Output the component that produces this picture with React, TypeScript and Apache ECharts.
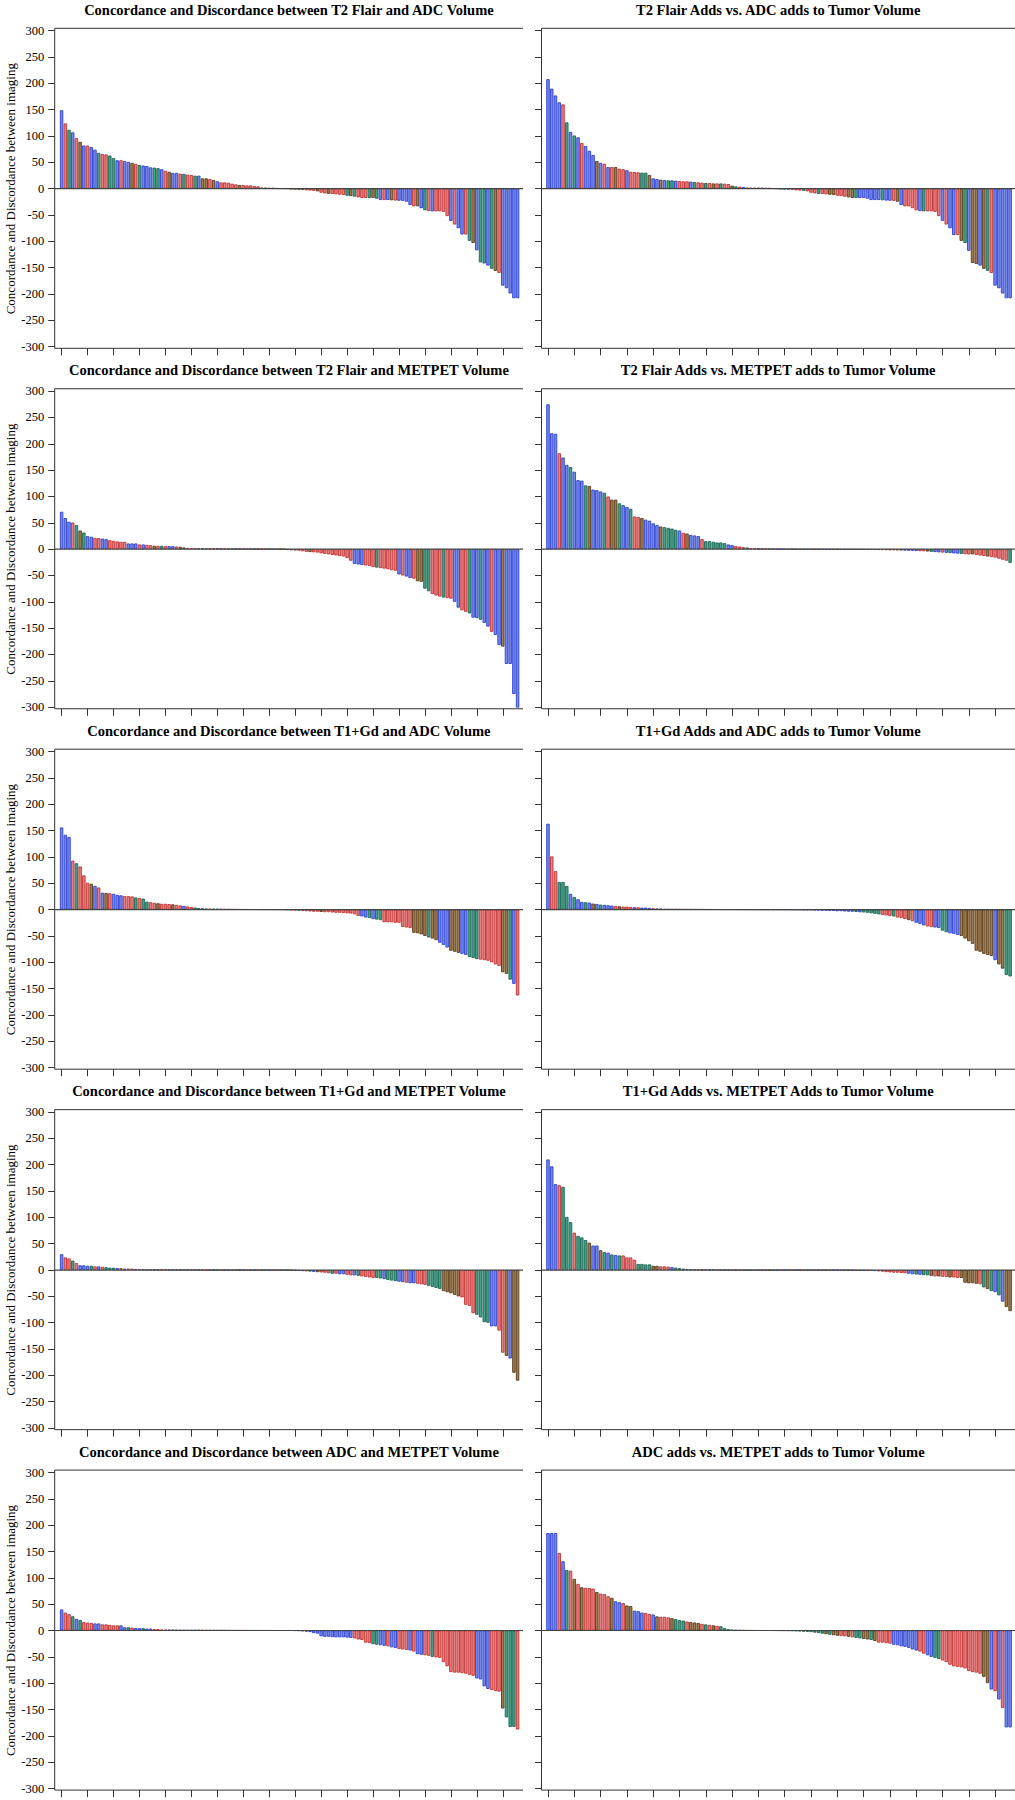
import React, { useEffect, useRef } from 'react';
import * as echarts from 'echarts';

// ---------- data ----------
const N_BARS = 124;
const CATEGORIES: string[] = Array.from({ length: N_BARS }, (_, i) => String(i + 1));
const Y_MIN = -300;
const Y_MAX = 300;
const Y_STEP = 50;
const Y_NAME = 'Concordance and Discordance between imaging';

const TITLES = [
  'Concordance and Discordance between T2 Flair and ADC Volume',
  'T2 Flair Adds vs. ADC adds to Tumor Volume',
  'Concordance and Discordance between T2 Flair and METPET Volume',
  'T2 Flair Adds vs. METPET adds to Tumor Volume',
  'Concordance and Discordance between T1+Gd and ADC Volume',
  'T1+Gd Adds and ADC adds to Tumor Volume',
  'Concordance and Discordance between T1+Gd and METPET Volume',
  'T1+Gd Adds vs. METPET Adds to Tumor Volume',
  'Concordance and Discordance between ADC and METPET Volume',
  'ADC adds vs. METPET adds to Tumor Volume',
];

// colour codes: B blue, R red, G green, N brown
const P1_VALUES = [
  149, 124, 112, 107, 96, 89, 82, 82, 79, 74,
  68, 66, 65, 63, 58, 54, 54, 52.5, 51, 49,
  47, 45, 44, 43, 40.5, 40, 39, 37, 34, 32,
  30, 30, 28.5, 28, 26.6, 26, 24.7, 24.7, 19.6, 19.6,
  18.4, 16.5, 14, 12, 12, 11.4, 9.5, 8.2, 7, 7,
  6.3, 6.3, 5, 4.4, 2, 2, 1.5, 1.5, 1, 0.5,
  0.5, 0.3, -0.5, -1, -1.5, -2, -3, -3.5, -4, -5,
  -7.6, -8.9, -10, -10, -10.7, -11.4, -12, -13.3, -14, -15.2,
  -16.5, -17.7, -17.7, -17.7, -17.7, -19, -21.5, -21.5, -21.5, -22,
  -22.5, -22.8, -23, -24.7, -31, -33.5, -33.5, -37, -41, -42.4,
  -43, -43, -43, -44, -52, -61, -68, -75, -87, -87,
  -99, -103, -117, -140, -142, -146, -152, -156, -160, -184,
  -189, -199, -208, -208,
];
const P1_COLORS = ['BRGBRNBRBB', 'GRRGGBRBBN', 'RGBBBGGBRN', 'BBRGRRGBNN', 'RNBRRRRRNR', 'RRRRNNNNGG',
  'NGNNNNRRRN', 'RRNRRRRGNG', 'RRRGNGBRBN', 'RBBBBRNBGR', 'BRRRRBRBBR', 'GNBGGBGNRB', 'BBBB'].join('');

const P2_VALUES = [
  208, 190, 177, 164, 160, 126, 108, 101, 97.5, 87,
  81, 72, 64, 52.5, 49, 47.5, 41, 41, 41, 38,
  37, 35, 32, 31.6, 31, 30.4, 30.4, 26, 19.6, 18.4,
  17, 16.5, 15.8, 15.8, 15.2, 14.6, 14, 14, 13.3, 12.7,
  12, 11.4, 10.8, 10.8, 10, 10, 10, 9.5, 8.9, 5.7,
  4.4, 3.8, 3.2, 2, 2, 2, 2, 2, 1.3, 1.3,
  0.6, 0.3, -0.5, -1, -1.5, -2, -3, -3.5, -4, -5,
  -7.6, -8.9, -10, -10, -10.7, -11.4, -12, -13.3, -14, -15.2,
  -16.5, -17.7, -17.7, -17.7, -17.7, -19, -21.5, -21.5, -21.5, -22,
  -22.5, -22.8, -23, -24.7, -31, -33.5, -33.5, -37, -41, -42.4,
  -43, -43, -43, -44, -52, -61, -68, -75, -88, -88,
  -99, -103, -118, -141, -143, -146, -152, -156, -160, -184,
  -189, -199, -208, -208,
];
const P2_COLORS = ['BBBBRGBGBR', 'BBBNBRBRNR', 'RBRRRGGNBB', 'NBGGBRRRBG', 'RRGRNRGRRN', 'GRBNRRGRBR', 'RG',
  'GGGRRRG', 'RRRGRRN', 'NRRRNNG', 'BBBBBBG', 'BBRNBRR', 'RRBGRRR',
  'RBRBBRNGBN', 'NBNGRBBBBB'].join('');

const P3_VALUES = [
  71, 59, 52, 50.6, 45.6, 35.4, 31.6, 24.7, 23.4, 21.5,
  21, 20, 19, 17, 15.8, 14.6, 14, 14, 10.8, 10.8,
  10.8, 8.9, 8.9, 8.2, 7.6, 6.3, 6.3, 6.3, 5.7, 5.7,
  5.7, 5, 4.4, 3.2, 2, 2, 1.8, 1.6, 1.5, 1.4,
  1.3, 1.2, 1.1, 1, 1, 0.9, 0.8, 0.8, 0.7, 0.6,
  0.5, 0.5, 0.4, 0.3, 0.3, 0.2, 0.2, 0.1, 0.1, 0,
  0, -1.5, -2, -2.5, -3, -4, -5, -5.5, -6, -6.5,
  -8, -9, -10, -11, -12, -13, -14, -17, -22, -28,
  -29, -30, -31, -32, -34, -35, -36, -37, -38, -40,
  -41, -48, -50, -52, -55, -56, -61, -62, -75, -80,
  -85, -88, -90, -92, -93, -94, -100, -111, -116, -119,
  -122, -130, -131, -134, -140, -147, -157, -163, -182, -185,
  -218, -218, -275, -305,
];
const P3_COLORS = ['BBBRGNGBBR', 'RBBRRRRRBB', 'BRBRRNRGRB', 'BRNNR',
  'RRBNGRRNBRRGNBRRGBNRRGBRNG',
  'NNNRRRNRRRRRRRRRRRBBBRRRGRRRRRBRBBRNNGG',
  'RRRGRRBBRRGBBGBBRBBNBBBB'].join('');

const P4_VALUES = [
  275, 220, 219, 182, 174, 160, 156, 147, 131, 130,
  121, 120, 113, 112, 109.5, 107, 100, 94, 94, 87,
  83.5, 80, 76.6, 62, 61, 59, 56, 54, 49, 45.6,
  43, 41.8, 40.5, 39, 36.7, 35.4, 31, 29.7, 27, 26,
  24.7, 19, 15.2, 15.2, 14, 12.7, 12.7, 11.4, 8.9, 7.6,
  5.7, 5, 3.8, 3.2, 2, 1.5, 1.2, 1, 0.8, 0.6,
  0.4, 0.3, 0, 0, -0.2, -0.2, -0.3, -0.3, -0.3, -0.4,
  -0.4, -0.5, -0.5, -0.5, -0.6, -0.6, -0.7, -0.7, -0.8, -0.8,
  -0.9, -0.9, -1, -1, -1.1, -1.2, -1.3, -1.4, -1.5, -1.6,
  -1.8, -2, -2.2, -2.4, -2.6, -2.8, -3, -3.2, -3.5, -3.8,
  -4, -4.5, -5, -5.5, -6, -6.5, -7, -7.5, -8, -8.5,
  -9, -9.5, -10, -10, -11, -12, -13, -14, -15, -16,
  -18, -20, -22, -26,
];
const P4_COLORS = ['BBBRBBGBBB', 'GNBBBGRNNG', 'BBGRRNBBBB', 'NGGGGBRNBB', 'BRGGGGGGBB', 'RRRGR',
  'RNBRGRB', 'BGRNBRGBRNGBRBGNRBGRBNB', 'BRRBRRNRRGBB', 'BBRRNGBBRBG', 'BBGRRNR', 'RRNR', 'RRRRG'].join('');

const P5_VALUES = [
  156, 142, 138, 93, 88, 82, 65, 51, 49, 45,
  42, 32, 31.6, 31, 30, 28, 27, 26, 25.5, 25,
  23, 22, 21, 15, 14, 13, 12, 11, 11, 10.5,
  10, 9, 8, 7, 6, 5, 4, 3, 2.5, 2,
  1.8, 1.6, 1.4, 1.2, 1, 0.9, 0.8, 0.7, 0.6, 0.5,
  0.5, 0.4, 0.3, 0.3, 0.2, 0.2, 0.1, 0.1, 0, 0,
  -0.2, -0.5, -1, -1.5, -2, -2.5, -3, -3.5, -4, -4,
  -4.5, -5, -5, -5.5, -6, -6, -6.5, -7, -7.5, -9,
  -12, -13, -15, -16, -18, -19, -20, -24, -24, -24,
  -25, -25, -33, -34, -35, -44, -45, -47, -50, -53,
  -55, -58, -63, -67, -72, -78, -80, -82, -84, -86,
  -90, -92, -94, -95, -96, -97, -100, -104, -107, -119,
  -122, -133, -141, -163,
];
const P5_COLORS = ['BBBRGRRRNB', 'RBNRBBBRRR', 'GRGGRRNRRR', 'NRRBRRGGGG',
  'RGGBRNGRBRGNRBGRRNGBR', 'GRRGRRR', 'RRNRRRRRRRR', 'RR', 'BBGBGG', 'RRRRR', 'RRRNN',
  'NNGNNBBB', 'NNNBBGGG', 'RRRRRRNNGBR'].join('');

const P6_VALUES = [
  163, 101, 73, 52.5, 52.5, 45, 30, 24, 19.6, 14.6,
  14, 13.3, 11.4, 10.8, 9.5, 8.9, 8.2, 7.6, 7, 6.3,
  5.7, 5.7, 5, 4.4, 4.4, 3.8, 3.8, 3.2, 2.5, 2,
  2, 1.3, 1.2, 1.1, 1, 1, 0.9, 0.8, 0.8, 0.7,
  0.7, 0.6, 0.5, 0.5, 0.4, 0.4, 0.3, 0.3, 0.2, 0.2,
  0.1, 0.1, 0.1, 0, 0, 0, 0, -0.1, -0.1, -0.1,
  -0.2, -0.2, -0.2, -0.3, -0.3, -0.4, -0.4, -0.5, -0.6, -0.7,
  -0.8, -1, -1.5, -2, -2, -2.5, -2.5, -3, -3, -3.5,
  -4, -4, -4.5, -5, -5.5, -6, -7, -8, -9, -10,
  -11, -12, -13, -15, -16, -18, -20, -22, -25, -27,
  -30, -32, -33, -34, -35, -40, -43, -45, -46, -48,
  -50, -55, -60, -65, -78, -80, -84, -86, -88, -96,
  -104, -112, -124, -127,
];
const P6_COLORS = ['BRRGGGBGBB', 'GBNBGBBBRN', 'RRRBRBBBRN', 'BR',
  'BRBRRBNRBGRBBRRBGRBR', 'BRGBBRNBGRBBRGBRBNB', 'BBBBBBBB', 'BBBGBGG', 'GGGRRRG',
  'RRRNRBB', 'BRRBB', 'GGBBB', 'NNNN', 'NNNNN', 'BNNGG'].join('');

const P7_VALUES = [
  30, 24, 22, 18, 13.4, 9, 9, 8, 8, 7,
  7, 6.3, 5.4, 4.5, 4.5, 3.6, 3.6, 2.7, 2.7, 2.7,
  1.8, 1.6, 1.5, 1.4, 1.3, 1.2, 1.1, 1, 1, 0.9,
  0.9, 0.8, 0.8, 0.7, 0.7, 0.6, 0.6, 0.5, 0.5, 0.5,
  0.4, 0.4, 0.4, 0.3, 0.3, 0.3, 0.2, 0.2, 0.2, 0.2,
  0.1, 0.1, 0.1, 0.1, 0, 0, 0, 0, 0, 0,
  0, 0, -0.5, -1, -1.5, -2, -2.5, -3, -3.5, -4,
  -4.5, -5, -6, -7, -7, -8, -8, -9, -10, -10,
  -11, -12, -13, -14, -15, -15, -16, -17, -19, -20,
  -21, -22, -23, -24, -25, -25, -26, -27, -28, -30,
  -32, -34, -36, -40, -42, -44, -47, -50, -52, -66,
  -68, -82, -85, -90, -99, -100, -107, -107, -115, -157,
  -163, -168, -195, -210,
];
const P7_COLORS = ['BRRGRBBBGRBRGGGBRBRRB', 'RBGRNBRRGBRNGBRBGRRBNGRBBRGNBRGBRNGBRRBGN',
  'GNBBRGBNRR', 'RGRBBRRBGR', 'RRRGGBGGGB', 'BRBBRRRGGG', 'GNNNNNRRRR', 'GGGGBBRRNB', 'NN'].join('');

const P8_VALUES = [
  210, 197, 163, 161, 158, 101, 91, 71, 65, 62,
  57, 52, 46.5, 46.5, 37.6, 34, 33, 29.5, 28.6, 27.7,
  27.7, 24, 24, 19.7, 11.6, 11.6, 10.7, 10.7, 8, 8,
  7, 7, 6.3, 5.4, 4.5, 3.6, 2.7, 1.8, 1.5, 1.3,
  1.2, 1, 0.9, 0.8, 0.7, 0.6, 0.5, 0.4, 0.3, 0.2,
  0.1, 0.1, 0.1, 0, 0, 0, 0, 0, 0, 0,
  0, 0, 0, 0, 0, 0, 0, 0, 0, 0,
  0, -0.1, -0.1, -0.1, -0.2, -0.2, -0.2, -0.3, -0.3, -0.4,
  -0.4, -0.5, -0.6, -0.7, -0.8, -1, -1.5, -2, -2.5, -3,
  -4, -4.5, -5, -5, -5.5, -6, -7, -8, -8.5, -9,
  -9.5, -10, -11, -12, -12, -13, -13, -14, -14, -15,
  -15, -24, -25, -25, -26, -27, -33, -36, -40, -42,
  -48, -60, -70, -78,
];
const P8_COLORS = ['BBBRGGGRGG', 'GNBBNGBGBG', 'RRRRGGGGNN', 'RRRBGGGB',
  'GBRNRBGRBNGR', 'BRGNBRGBRNGBRBGRBNRGBRBGNRBBRGNBRGB', 'RGBRR', 'RRRRRR', 'BBGBGG',
  'NRNRRNRRN', 'NNNNR', 'GNG', 'BGBNN'].join('');

const P9_VALUES = [
  40, 34, 31, 27, 22, 20, 16, 15, 14.3, 13.4,
  13.4, 11.6, 11.6, 10.7, 9.8, 9.8, 9.8, 6.3, 6.3, 5.4,
  4.5, 4.5, 4.5, 3.6, 3.6, 2.7, 2.7, 1.8, 1.6, 1.5,
  1.4, 1.3, 1.2, 1.1, 1, 1, 0.9, 0.9, 0.8, 0.8,
  0.7, 0.7, 0.6, 0.6, 0.5, 0.5, 0.4, 0.4, 0.3, 0.3,
  0.3, 0.2, 0.2, 0.2, 0.1, 0.1, 0.1, 0, 0, 0,
  0, 0, 0, -0.2, -0.5, -1, -2, -3, -5, -6,
  -11, -12, -12, -12.5, -13, -13, -13, -13.5, -14, -15,
  -17, -18, -23, -24, -26, -27, -28, -29, -30, -32,
  -33, -35, -36, -37, -38, -40, -45, -46, -47, -48,
  -50, -51, -52, -60, -68, -79, -80, -80, -81, -82,
  -84, -86, -91, -93, -106, -111, -113, -115, -116, -148,
  -165, -183, -183, -188,
];
const P9_COLORS = ['BRRGBGRRRB', 'BRRRRRBBGR', 'BBGBBRRR',
  'RBNGRBRGBNRRBGRBNRGBRRGBNRBGRBRNGBRGB', 'GNBBB', 'BBBBBBBBB', 'RRR', 'RRGGBBR',
  'BBRRRBR', 'BBRRGRR', 'RR', 'RRRRRRR', 'BBBB', 'RRR', 'N', 'GGG', 'R'].join('');

const P10_VALUES = [
  185, 185, 185, 147, 131.5, 115, 113.6, 98, 88.5, 82,
  81, 80.5, 79.6, 73, 70, 69, 65, 62, 55.5, 53.7,
  52, 47.5, 46.5, 37.6, 36.7, 34, 33, 31.3, 30.4, 26.8,
  26, 26, 25, 23.3, 21.5, 19.7, 18.8, 17, 16, 15.2,
  14.3, 12.5, 11.6, 10.7, 9.8, 9, 8, 4.5, 2.7, 1.5,
  1, 0.8, 0.5, 0.3, 0.2, 0.1, 0, 0, 0, 0,
  -0.1, -0.2, -0.3, -0.4, -0.5, -0.7, -1, -1.5, -2, -2.5,
  -3, -4, -5, -6, -7, -8, -9, -10, -10.5, -11,
  -12, -13, -14, -15, -16, -17, -18, -20, -23, -23,
  -24, -25, -27, -28, -30, -31, -33, -36, -38, -40,
  -44, -47, -50, -52, -54, -57, -60, -65, -68, -69,
  -70, -72, -77, -79, -80, -82, -88, -100, -112, -115,
  -131, -147, -184, -184,
];
const P10_COLORS = ['BBBRBGRNRN', 'RRRNRRRNBB', 'RNNBBBRRBN', 'RRRNGGGRNN', 'NRGRNRGGG',
  'GRBNG', 'RBGNRGBRNGRBGGNG', 'GGGGNG', 'NNRRNR', 'GGNNGN', 'RRRR', 'BBBBB', 'BBRRB',
  'BGGRR', 'RRRRR', 'RRRR', 'NNB', 'RBRBB'].join('');

const PANEL_VALUES = [P1_VALUES, P2_VALUES, P3_VALUES, P4_VALUES, P5_VALUES, P6_VALUES, P7_VALUES, P8_VALUES, P9_VALUES, P10_VALUES];
const PANEL_COLORS = [P1_COLORS, P2_COLORS, P3_COLORS, P4_COLORS, P5_COLORS, P6_COLORS, P7_COLORS, P8_COLORS, P9_COLORS, P10_COLORS];

// ---------- styling / layout ----------
const PALETTE: Record<string, { fill: string; edge: string }> = {
  B: { fill: '#7789e6', edge: '#2b3fd4' },
  R: { fill: '#ea7d7d', edge: '#c03232' },
  G: { fill: '#45a088', edge: '#1c6654' },
  N: { fill: '#a47c4c', edge: '#553a18' },
};
const FONT = "'Liberation Serif', 'Times New Roman', serif";
const ROW_STEP = 360.45;
const PLOT_TOP = 30.7;
const PLOT_H = 316;
const BOX_TOP = 28.3;
const BOX_BOTTOM = 348.3;
const ZERO_Y = 188.7;
const TITLE_Y = 10;
const LINE_COLOR = '#333';

const COLS = [
  { axisX: 54.7, gridLeft: 59.75, gridWidth: 459.7, rightEnd: 523, titleX: 288.9, labels: true },
  { axisX: 541.5, gridLeft: 546.1, gridWidth: 465.9, rightEnd: 1015, titleX: 778.2, labels: false },
];

function buildOption() {
  const grid: any[] = [];
  const xAxis: any[] = [];
  const yAxis: any[] = [];
  const series: any[] = [];
  const graphic: any[] = [];

  PANEL_VALUES.forEach((values, p) => {
    const row = Math.floor(p / 2);
    const col = COLS[p % 2];
    const off = row * ROW_STEP;
    const colors = PANEL_COLORS[p];

    grid.push({ left: col.gridLeft, top: PLOT_TOP + off, width: col.gridWidth, height: PLOT_H, containLabel: false });

    xAxis.push({
      gridIndex: p,
      type: 'category',
      data: CATEGORIES,
      position: 'bottom',
      offset: BOX_BOTTOM - (PLOT_TOP + PLOT_H),
      axisLine: { show: false, onZero: false },
      axisTick: { show: true, interval: 6, alignWithLabel: true, length: 7, lineStyle: { color: LINE_COLOR, width: 1 } },
      axisLabel: { show: false },
      splitLine: { show: false },
    });

    yAxis.push({
      gridIndex: p,
      type: 'value',
      min: Y_MIN,
      max: Y_MAX,
      interval: Y_STEP,
      offset: col.gridLeft - col.axisX,
      axisLine: { show: false },
      axisTick: { show: true, length: 6.5, lineStyle: { color: LINE_COLOR, width: 1 } },
      axisLabel: { show: col.labels, margin: 10.5, fontSize: 12.5, fontFamily: FONT, color: '#000' },
      splitLine: { show: false },
    });

    series.push({
      type: 'bar',
      xAxisIndex: p,
      yAxisIndex: p,
      barCategoryGap: '8%',
      silent: true,
      itemStyle: { borderWidth: 0.9 },
      data: values.map((v, i) => {
        const pal = PALETTE[colors[i]] || PALETTE.B;
        return { value: v, itemStyle: { color: pal.fill, borderColor: pal.edge } };
      }),
    });

    graphic.push({
      type: 'text', x: col.titleX, y: TITLE_Y + off, silent: true,
      style: { text: TITLES[p], fill: '#000', fontFamily: FONT, fontSize: 14.5, fontWeight: 'bold', align: 'center', verticalAlign: 'middle' },
    });
    if (col.labels) {
      graphic.push({
        type: 'text', x: 10, y: ZERO_Y + off, rotation: Math.PI / 2, silent: true,
        style: { text: Y_NAME, fill: '#000', fontFamily: FONT, fontSize: 13, align: 'center', verticalAlign: 'middle' },
      });
    }
    const ln = (x1: number, y1: number, x2: number, y2: number, color = LINE_COLOR, w = 1) => ({
      type: 'line', silent: true, z: 10,
      shape: { x1, y1, x2, y2 },
      style: { stroke: color, lineWidth: w },
    });
    graphic.push(ln(col.axisX, BOX_TOP + off, col.axisX, BOX_BOTTOM + off));
    graphic.push(ln(col.axisX, BOX_TOP + off, col.rightEnd, BOX_TOP + off));
    graphic.push(ln(col.axisX, BOX_BOTTOM + off, col.rightEnd, BOX_BOTTOM + off));
    graphic.push(ln(col.axisX, ZERO_Y + off, col.rightEnd, ZERO_Y + off, '#444', 1.2));
  });

  return {
    animation: false,
    backgroundColor: '#ffffff',
    grid,
    xAxis,
    yAxis,
    series,
    graphic,
  };
}

export default function App() {
  const ref = useRef<HTMLDivElement>(null);
  useEffect(() => {
    document.body.style.margin = '0';
    if (!ref.current) return;
    const chart = echarts.init(ref.current, null, { renderer: 'svg' });
    chart.setOption(buildOption() as any);
    return () => chart.dispose();
  }, []);
  return <div ref={ref} style={{ width: 1015, height: 1800 }} />;
}
